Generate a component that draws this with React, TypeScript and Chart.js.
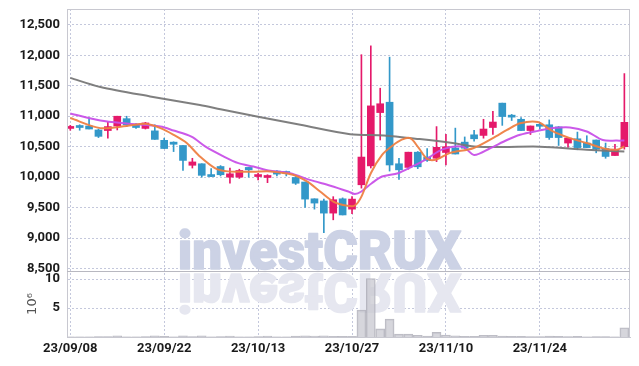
import React, { useEffect, useRef } from 'react';
import { Chart, registerables } from 'chart.js';

Chart.register(...registerables);

// ---- data ----
const dates = [
  '23/09/08', '23/09/11', '23/09/12', '23/09/13', '23/09/14', '23/09/15',
  '23/09/18', '23/09/19', '23/09/20', '23/09/21', '23/09/22',
  '23/09/25', '23/09/26', '23/09/27',
  '23/10/04', '23/10/05', '23/10/06',
  '23/10/10', '23/10/11', '23/10/12', '23/10/13',
  '23/10/16', '23/10/17', '23/10/18', '23/10/19', '23/10/20',
  '23/10/23', '23/10/24', '23/10/25', '23/10/26', '23/10/27',
  '23/10/30', '23/10/31', '23/11/01', '23/11/02', '23/11/03',
  '23/11/06', '23/11/07', '23/11/08', '23/11/09', '23/11/10',
  '23/11/13', '23/11/14', '23/11/15', '23/11/16', '23/11/17',
  '23/11/20', '23/11/21', '23/11/22', '23/11/23', '23/11/24',
  '23/11/27', '23/11/28', '23/11/29', '23/11/30', '23/12/01',
  '23/12/04', '23/12/05', '23/12/06', '23/12/07',
];

const opens = [
  10800, 10825, 10840, 10775, 10765, 10840, 10960, 10860, 10800, 10760,
  10605, 10575, 10520, 10195, 10220, 10040, 10175, 10000, 10000, 10160,
  10010, 9995, 10100, 10070, 9995, 9920, 9645, 9610, 9410, 9645,
  9475, 9875, 10185, 11060, 11230, 10220, 10160, 10410, 10330, 10310,
  10405, 10480, 10575, 10695, 10685, 10815, 11215, 11000, 10950, 10765,
  10845, 10860, 10825, 10560, 10630, 10560, 10610, 10470, 10355, 10500,
];
const highs = [
  10850, 10860, 10970, 10790, 10900, 11000, 11000, 10880, 10900, 10860,
  10640, 10580, 10520, 10310, 10220, 10140, 10190, 10150, 10130, 10160,
  10065, 10040, 10110, 10100, 10010, 9920, 9645, 9640, 9680, 9660,
  9680, 12010, 12155, 11460, 11970, 10310, 10410, 10420, 10470, 10830,
  10705, 10805, 10660, 10770, 10950, 11080, 11215, 11030, 10980, 10840,
  10900, 10940, 10830, 10640, 10740, 10680, 10610, 10560, 10540, 11700,
];
const lows = [
  10770, 10770, 10790, 10650, 10640, 10775, 10830, 10800, 10790, 10620,
  10470, 10420, 10110, 10150, 10000, 10010, 10020, 9900, 9980, 10000,
  9955, 9910, 10020, 10020, 9880, 9505, 9475, 9090, 9300, 9380,
  9400, 9820, 10150, 10610, 10100, 9965, 10130, 10140, 10260, 10255,
  10200, 10380, 10460, 10590, 10640, 10700, 10850, 10930, 10765, 10700,
  10790, 10620, 10520, 10490, 10450, 10485, 10400, 10310, 10355, 10460,
];
const closes = [
  10815, 10815, 10790, 10670, 10830, 11000, 10860, 10815, 10890, 10620,
  10470, 10540, 10275, 10250, 10030, 10010, 10040, 10055, 10110, 10120,
  10025, 10010, 10050, 10060, 9900, 9640, 9575, 9410, 9630, 9380,
  9640, 10330, 11170, 11205, 10200, 10120, 10410, 10170, 10275, 10490,
  10500, 10380, 10475, 10630, 10790, 10905, 10995, 10985, 10765, 10840,
  10835, 10650, 10650, 10640, 10485, 10485, 10460, 10340, 10450, 10900,
];

// volume, in millions of shares
const volumes = [
  0.05, 0.03, 0.04, 0.06, 0.08, 0.2, 0.05, 0.04, 0.06, 0.2,
  0.1, 0.05, 0.2, 0.08, 0.2, 0.05, 0.06, 0.18, 0.05, 0.04,
  0.08, 0.18, 0.05, 0.05, 0.15, 0.2, 0.18, 0.2, 0.12, 0.1,
  0.12, 4.65, 10.1, 1.4, 3.1, 0.5, 0.5, 0.3, 0.15, 0.8,
  0.35, 0.2, 0.1, 0.1, 0.3, 0.3, 0.15, 0.1, 0.1, 0.08,
  0.06, 0.15, 0.1, 0.08, 0.1, 0.05, 0.06, 0.07, 0.05, 1.6,
];

// moving averages (day index, value)
const maShortX = [0, 3.2, 6, 8, 9.6, 11, 12.4, 13.8, 15.4, 16.8, 19.5, 21.3, 23.7, 25.2, 26.6, 28, 29.5, 30.3, 31, 32, 33.2, 34.3, 35.3, 36.2, 37.1, 38, 39, 40.4, 42.9, 45, 46.5, 47.9, 49.8, 51.4, 53.2, 55, 56.7, 58.2, 59];
const maShortY = [10970, 10805, 10840, 10875, 10805, 10695, 10560, 10340, 10150, 10095, 10090, 10095, 10040, 9930, 9765, 9600, 9530, 9535, 9680, 10065, 10365, 10515, 10615, 10640, 10480, 10300, 10290, 10395, 10475, 10640, 10775, 10885, 10905, 10750, 10640, 10560, 10475, 10450, 10505];

const maMidX = [0, 3.2, 6, 9.6, 11, 12.9, 14.4, 16.2, 17.9, 19.5, 21.3, 23.4, 25.5, 27.7, 29.6, 30.3, 31, 32.1, 33.2, 34.9, 36.4, 37.8, 39.7, 41.8, 43, 44.7, 46.5, 47.9, 49.8, 51.4, 53.2, 55, 56.7, 58.2, 59];
const maMidY = [11045, 10930, 10880, 10830, 10765, 10665, 10500, 10350, 10230, 10175, 10105, 10065, 9955, 9860, 9765, 9725, 9765, 9900, 10010, 10065, 10175, 10285, 10460, 10500, 10365, 10475, 10610, 10695, 10760, 10805, 10815, 10750, 10610, 10600, 10600];

const maLongX = [0, 3.2, 8.5, 13.8, 16, 20, 24.5, 29.8, 33.4, 37.2, 40.7, 43, 46, 50, 55, 59];
const maLongY = [11630, 11480, 11325, 11185, 11115, 10990, 10860, 10705, 10685, 10625, 10560, 10505, 10495, 10500, 10450, 10420];

const xTickIndexes = [0, 10, 20, 30, 40, 50];
const priceTicks = [8500, 9000, 9500, 10000, 10500, 11000, 11500, 12000, 12500];
const volumeTicks = [5, 10];

// ---- styles ----
const UP = '#e5196a';
const DOWN = '#3398c9';
const GRID = '#c4c8dc';
const FRAME = '#c8c8d0';
const TICK_FONT = { family: "'Roboto', sans-serif", size: 13, weight: 'bold' as const };

const candleColor = (i: number) => (closes[i] >= opens[i] ? UP : DOWN);

const noPad = (s: any) => {
  s.paddingTop = 0;
  s.paddingBottom = 0;
};

const framePlugin = {
  id: 'frameAndMark',
  beforeDatasetsDraw(chart: any) {
    const { ctx, chartArea } = chart;
    const sep = chart.scales.y.bottom;
    ctx.save();
    ctx.beginPath();
    ctx.rect(chartArea.left, chartArea.top, chartArea.right - chartArea.left, chartArea.bottom - chartArea.top);
    ctx.clip();
    ctx.font = "900 54px 'Roboto', sans-serif";
    ctx.textAlign = 'center';
    ctx.textBaseline = 'alphabetic';
    ctx.lineJoin = 'round';
    ctx.lineWidth = 1.5;
    const cx = chart.width / 2;
    const w = ctx.measureText('investCRUX').width;
    const sx = (chart.width * 0.455) / w;
    ctx.save();
    ctx.translate(cx, sep + 3);
    ctx.scale(sx, -1);
    ctx.fillStyle = '#e6e7f0';
    ctx.strokeStyle = '#e6e7f0';
    ctx.fillText('investCRUX', 0, 0);
    ctx.strokeText('investCRUX', 0, 0);
    ctx.restore();
    ctx.save();
    ctx.translate(cx, sep - 2);
    ctx.scale(sx, 1);
    ctx.fillStyle = '#ccd2e5';
    ctx.strokeStyle = '#ccd2e5';
    ctx.fillText('investCRUX', 0, 0);
    ctx.strokeText('investCRUX', 0, 0);
    ctx.restore();
    ctx.restore();
  },
  afterDraw(chart: any) {
    const { ctx, chartArea } = chart;
    const sep = chart.scales.y.bottom;
    ctx.save();
    ctx.strokeStyle = FRAME;
    ctx.lineWidth = 1;
    ctx.strokeRect(Math.round(chartArea.left) + 0.5, Math.round(chartArea.top) + 0.5,
      Math.round(chartArea.right - chartArea.left) - 1, Math.round(chartArea.bottom - chartArea.top));
    ctx.strokeStyle = '#b8b8c0';
    ctx.beginPath();
    ctx.moveTo(chartArea.left, Math.round(sep) + 0.5);
    ctx.lineTo(chartArea.right, Math.round(sep) + 0.5);
    ctx.stroke();
    ctx.restore();
  },
};

export default function App() {
  const ref = useRef<HTMLCanvasElement | null>(null);

  useEffect(() => {
    if (!ref.current) return;
    const idx = dates.map((_, i) => i);
    const chart = new Chart(ref.current, {
      type: 'bar',
      data: {
        datasets: [
          {
            type: 'line',
            label: 'MA short',
            data: maShortX.map((x, i) => ({ x, y: maShortY[i] })),
            borderColor: 'rgba(238,128,66,0.95)',
            borderWidth: 2,
            pointRadius: 0,
            tension: 0.3,
            yAxisID: 'y',
            order: 0,
          } as any,
          {
            type: 'line',
            label: 'MA mid',
            data: maMidX.map((x, i) => ({ x, y: maMidY[i] })),
            borderColor: 'rgba(200,80,232,0.95)',
            borderWidth: 2,
            pointRadius: 0,
            tension: 0.3,
            yAxisID: 'y',
            order: 0,
          } as any,
          {
            type: 'line',
            label: 'MA long',
            data: maLongX.map((x, i) => ({ x, y: maLongY[i] })),
            borderColor: 'rgba(120,120,120,0.95)',
            borderWidth: 2,
            pointRadius: 0,
            tension: 0.3,
            yAxisID: 'y',
            order: 0,
          } as any,
          {
            label: 'wick',
            data: idx.map((i) => ({ x: i, y: [lows[i], highs[i]] })),
            backgroundColor: idx.map(candleColor),
            barThickness: 1,
            grouped: false,
            yAxisID: 'y',
            order: 2,
          } as any,
          {
            label: 'body',
            data: idx.map((i) => ({ x: i, y: [opens[i], closes[i]] })),
            backgroundColor: idx.map(candleColor),
            barThickness: 7,
            minBarLength: 2,
            grouped: false,
            yAxisID: 'y',
            order: 1,
          } as any,
          {
            label: 'volume',
            data: idx.map((i) => ({ x: i, y: volumes[i] })),
            backgroundColor: 'rgba(200,200,208,0.75)',
            borderColor: 'rgba(170,170,180,0.8)',
            borderWidth: 1,
            barThickness: 9,
            grouped: false,
            yAxisID: 'yv',
            order: 3,
          } as any,
        ],
      },
      options: {
        animation: false,
        responsive: true,
        maintainAspectRatio: false,
        layout: { padding: { top: 1, right: 1, left: 0, bottom: 0 } },
        plugins: { legend: { display: false }, tooltip: { enabled: false } },
        scales: {
          x: {
            type: 'linear',
            min: -0.35,
            max: 59.6,
            offset: false,
            afterBuildTicks: (s: any) => { s.ticks = xTickIndexes.map((v) => ({ value: v })); },
            afterFit: (s: any) => { s.height = 21; s.paddingLeft = 0; s.paddingRight = 0; },
            ticks: {
              autoSkip: false,
              maxRotation: 0,
              padding: 4,
              color: '#1a1a1a',
              font: TICK_FONT,
              callback: (v: any) => dates[v] ?? '',
            },
            grid: { color: GRID, drawTicks: false, offset: false },
            border: { color: FRAME, dash: [2, 2] },
          },
          yv: {
            type: 'linear',
            position: 'left',
            stack: 'panels',
            stackWeight: 66,
            min: 0,
            max: 11.4,
            afterBuildTicks: (s: any) => { s.ticks = volumeTicks.map((v) => ({ value: v })); },
            afterFit: (s: any) => { s.width = 59; noPad(s); },
            ticks: { autoSkip: false, padding: 7, color: '#1a1a1a', font: TICK_FONT },
            grid: { color: GRID, drawTicks: false },
            border: { color: FRAME, dash: [2, 2] },
            title: {
              display: true,
              text: '10⁶',
              color: '#555',
              font: { family: "'DejaVu Sans', sans-serif", size: 13 },
              padding: { top: 17, bottom: 0 },
            },
          },
          y: {
            type: 'linear',
            position: 'left',
            stack: 'panels',
            stackWeight: 262,
            min: 8460,
            max: 12760,
            afterBuildTicks: (s: any) => { s.ticks = priceTicks.map((v) => ({ value: v })); },
            afterFit: (s: any) => { s.width = 59; noPad(s); },
            ticks: {
              autoSkip: false,
              padding: 7,
              color: '#1a1a1a',
              font: TICK_FONT,
              callback: (v: any) => Number(v).toLocaleString('en-US'),
            },
            grid: { color: GRID, drawTicks: false },
            border: { color: FRAME, dash: [2, 2] },
          },
        },
      } as any,
      plugins: [framePlugin],
    });
    return () => chart.destroy();
  }, []);

  return (
    <div style={{ position: 'relative', width: '623px', height: '350px' }}>
      <canvas ref={ref} />
    </div>
  );
}
